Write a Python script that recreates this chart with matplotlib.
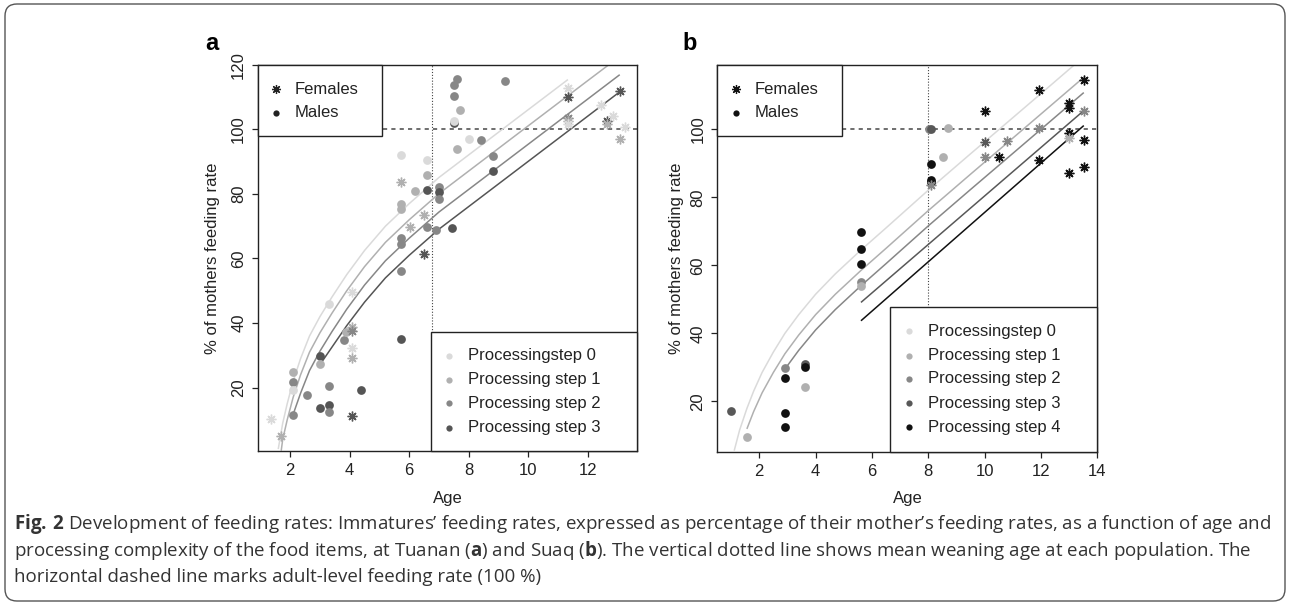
"""Fig. 2: tasa de alimentación de inmaduros (% de la madre) vs edad, Tuanan (a) y Suaq (b)."""
import matplotlib
matplotlib.use('Agg')
import matplotlib.pyplot as plt
from matplotlib.patches import Rectangle, FancyBboxPatch
from matplotlib.transforms import IdentityTransform

plt.rcParams['font.family'] = ['Liberation Sans', 'DejaVu Sans']
plt.rcParams['mathtext.fontset'] = 'custom'
plt.rcParams['mathtext.rm'] = 'Open Sans'
plt.rcParams['mathtext.bf'] = 'Open Sans:bold'

# ---------------- Tuanan (a) ----------------
a_fem_x = [1.36, 1.69, 4.08, 4.08, 4.08, 4.08, 4.08, 4.08, 6.02, 6.49, 6.49, 5.71,
           11.33, 11.33, 11.33, 11.33, 11.33, 12.45, 12.64, 12.64, 12.84, 13.07, 13.24, 13.07]
a_fem_y = [10.3, 4.9, 49.7, 38.8, 37.6, 32.2, 29.2, 11.2, 69.9, 73.4, 61.3, 83.8,
           112.8, 110.0, 103.5, 102.5, 101.5, 107.6, 102.7, 101.5, 104.2, 111.8, 100.6, 97.0]
a_fem_step = [0, 1, 0, 1, 2, 0, 1, 3, 1, 1, 3, 1,
              0, 3, 2, 1, 0, 0, 3, 1, 0, 3, 0, 1]

a_male_x = [2.08, 2.08, 2.08, 2.08, 2.58, 2.99, 2.99, 2.99, 3.29, 3.29, 3.29, 3.29,
            3.8, 3.89, 4.38, 5.71, 5.71, 5.71, 5.71, 5.71, 5.71, 5.71, 6.2, 6.61,
            6.61, 6.61, 6.61, 6.91, 7.01, 7.01, 7.01, 7.42, 7.5, 7.5, 7.62, 7.7,
            7.5, 7.5, 7.62, 8.02, 8.41, 8.82, 8.82, 9.22]
a_male_y = [24.8, 21.9, 19.2, 11.6, 17.6, 29.8, 27.4, 13.8, 45.8, 20.6, 14.7, 12.5,
            34.7, 37.2, 19.2, 35.0, 91.9, 77.0, 75.2, 66.2, 64.6, 56.1, 81.0, 90.4,
            85.7, 81.3, 69.8, 68.7, 82.1, 80.5, 78.4, 69.3, 113.6, 110.2, 115.7, 106.1,
            101.9, 102.5, 94.0, 97.0, 96.8, 91.6, 87.0, 115.1]
a_male_step = [1, 2, 0, 2, 2, 3, 1, 3, 0, 2, 3, 2,
               2, 1, 3, 3, 0, 1, 1, 2, 2, 2, 1, 0,
               1, 3, 2, 2, 2, 3, 2, 3, 2, 2, 2, 1,
               3, 0, 1, 0, 2, 2, 3, 2]

# curvas del modelo
a_c0_x = [1.60, 1.75, 1.9, 2.1, 2.35, 2.65, 3.0, 3.4, 3.9, 4.5, 5.2, 6.0, 7.0, 8.0, 9.0, 10.0, 11.33]
a_c0_y = [1, 9, 15, 22, 29, 36, 42, 48, 55, 62.5, 70, 77, 85.1, 92.1, 99.1, 106.1, 115.4]
a_c1_x = [1.70, 1.75, 1.9, 2.1, 2.35, 2.65, 3.0, 3.4, 3.9, 4.5, 5.2, 6.0, 7.0, 8.0, 9.0, 10.0, 11.0, 12.0, 12.82]
a_c1_y = [0.5, 4, 10, 17, 24, 31, 37, 43, 50, 57.5, 65, 72, 80.1, 87.1, 94.1, 101.1, 108.1, 115.1, 120.8]
a_c2_x = [2.08, 2.35, 2.65, 3.0, 3.4, 3.9, 4.5, 5.2, 6.0, 7.0, 8.0, 9.0, 10.0, 11.0, 12.0, 13.07]
a_c2_y = [11.2, 18.3, 25.3, 31.3, 37.3, 44.3, 51.8, 59.3, 66.3, 74.4, 81.4, 88.4, 95.4, 102.4, 109.4, 116.9]
a_c3_x = [2.99, 3.4, 3.9, 4.5, 5.2, 6.0, 7.0, 8.0, 9.0, 10.0, 11.0, 12.0, 13.07]
a_c3_y = [27, 32.5, 39.2, 46.5, 54, 61, 69.1, 76.1, 83.1, 90.1, 97.1, 104.1, 111.6]
a_weaning = 6.78

# ---------------- Suaq (b) ----------------
b_fem_x = [8.11, 10.0, 10.0, 10.0, 10.5, 10.78, 11.92, 11.92, 11.92, 13.0, 13.0, 13.0,
           13.0, 13.0, 13.52, 13.52, 13.52, 13.52]
b_fem_y = [83.7, 105.3, 96.3, 91.8, 91.8, 96.7, 111.6, 100.3, 90.9, 107.6, 106.3, 98.8,
           97.4, 87.1, 114.5, 105.5, 96.9, 89.0]
b_fem_step = [2, 4, 3, 2, 4, 2, 4, 2, 4, 4, 4, 4,
              1, 4, 4, 2, 4, 4]

b_male_x = [1.0, 1.56, 2.91, 2.91, 2.91, 2.91, 3.61, 3.61, 3.61, 5.61, 5.61, 5.61,
            5.61, 5.61, 8.01, 8.1, 8.70, 8.51, 8.11, 8.11, 8.11]
b_male_y = [17.2, 9.4, 29.7, 26.8, 16.5, 12.6, 31.0, 30.0, 24.1, 69.7, 64.8, 60.4,
            55.0, 54.0, 100.1, 100.1, 100.3, 91.8, 89.8, 85.1, 84.6]
b_male_step = [3, 1, 2, 4, 4, 4, 3, 4, 1, 4, 4, 4,
               2, 1, 2, 3, 1, 1, 4, 4, 4]

b_c0_x = [1.11, 1.3, 1.56, 1.8, 2.1, 2.5, 2.91, 3.4, 4.0, 4.7, 5.61, 6.5, 8.0, 9.5, 10.9, 12.0, 13.22]
b_c0_y = [5.5, 11.5, 17.9, 23, 28.5, 34.5, 40, 45.5, 51.5, 57.5, 64.5, 71, 82.1, 92.8, 102.7, 110.5, 119.2]
b_c1_x = [1.56, 1.8, 2.1, 2.5, 2.91, 3.4, 4.0, 4.7, 5.61, 6.5, 8.0, 9.5, 10.9, 12.0, 13.52]
b_c1_y = [11.9, 17, 22.5, 28.5, 34, 39.5, 45.5, 51.5, 58.5, 65, 76.1, 86.8, 96.7, 104.5, 115.3]
b_c2_x = [2.91, 3.4, 4.0, 4.7, 5.61, 6.5, 8.0, 9.5, 10.9, 12.0, 13.52]
b_c2_y = [29.5, 35, 41, 47, 54, 60.5, 71.6, 82.3, 92.2, 100, 110.8]
b_c3_x = [5.61, 13.52]
b_c3_y = [49.1, 105.5]
b_c4_x = [5.61, 13.52]
b_c4_y = [43.7, 101.1]
b_weaning = 8.0

a_labels = ['Processingstep 0', 'Processing step 1', 'Processing step 2', 'Processing step 3']
b_labels = a_labels + ['Processing step 4']
a_cols = ['#dadada', '#b0b0b0', '#878787', '#555555']
b_cols = ['#dadada', '#b0b0b0', '#878787', '#585858', '#111111']

AST = (8, 2, 0)   # asterisco tipo pch=8


def leyenda(ax, x0, x1, y0, y1, mk_x, tx_x, rows, labels, markers, colors, ms):
    ax.add_patch(Rectangle((x0, y0), x1 - x0, y1 - y0, transform=ax.transAxes,
                           facecolor='white', edgecolor='#222222', lw=1.0, zorder=5, clip_on=False))
    for r, lab, m, c in zip(rows, labels, markers, colors):
        if m == AST:
            ax.plot([mk_x], [r], marker=m, ms=ms + 2, mew=0.9, color=c, ls='none',
                    transform=ax.transAxes, zorder=6, clip_on=False)
        else:
            ax.plot([mk_x], [r], marker=m, ms=ms, mew=0, color=c, ls='none',
                    transform=ax.transAxes, zorder=6, clip_on=False)
        ax.text(tx_x, r, lab, transform=ax.transAxes, va='center', ha='left',
                fontsize=12, color='#222222', zorder=6)


def panel(ax, curves, cols, fx, fy, fs, mx, my, ms, wean, xlim, ylim, xticks, yticks):
    for (cx, cy), c in zip(curves, cols):
        ax.plot(cx, cy, '-', color=c, lw=1.1, zorder=2, solid_capstyle='butt')
    ax.axvline(wean, color='#444444', lw=0.8, ls=(0, (1, 1.6)), zorder=1)
    ax.axhline(100, color='#555555', lw=1.2, ls=(0, (2.5, 2.5)), zorder=1)
    for x, y, s in zip(mx, my, ms):
        ax.plot(x, y, 'o', ms=6.3, mew=0, color=cols[s], zorder=3)
    for x, y, s in zip(fx, fy, fs):
        ax.plot(x, y, marker=AST, ms=7, mew=1.0, color=cols[s], ls='none', zorder=4)
    ax.set_xlim(*xlim)
    ax.set_ylim(*ylim)
    ax.set_xticks(xticks)
    ax.set_yticks(yticks)
    ax.tick_params(direction='out', length=4.5, width=0.9, labelsize=12, pad=4,
                   colors='#222222')
    for lab in ax.get_yticklabels():
        lab.set_rotation(90)
        lab.set_va('center')
    for sp in ax.spines.values():
        sp.set_linewidth(1.0)
        sp.set_color('#222222')


fig = plt.figure(figsize=(12.9, 6.05), dpi=100)
W, H = 1290, 605
axa = fig.add_axes([258 / W, (H - 451) / H, 379 / W, 386.3 / H])
axb = fig.add_axes([717.3 / W, (H - 451.7) / H, 380 / W, 387 / H])

panel(axa, [(a_c0_x, a_c0_y), (a_c1_x, a_c1_y), (a_c2_x, a_c2_y), (a_c3_x, a_c3_y)], a_cols,
      a_fem_x, a_fem_y, a_fem_step, a_male_x, a_male_y, a_male_step, a_weaning,
      (0.92, 13.65), (0.4, 120), [2, 4, 6, 8, 10, 12], [20, 40, 60, 80, 100, 120])
panel(axb, [(b_c0_x, b_c0_y), (b_c1_x, b_c1_y), (b_c2_x, b_c2_y), (b_c3_x, b_c3_y), (b_c4_x, b_c4_y)],
      b_cols, b_fem_x, b_fem_y, b_fem_step, b_male_x, b_male_y, b_male_step, b_weaning,
      (0.51, 14.0), (5.2, 119), [2, 4, 6, 8, 10, 12, 14], [20, 40, 60, 80, 100])

# leyendas sexo
leyenda(axa, 0, 0.326, 0.8155, 1.0, 0.0475, 0.0958, [0.937, 0.876], ['Females', 'Males'],
        [AST, 'o'], ['#222222', '#222222'], 4.5)
leyenda(axb, 0, 0.327, 0.816, 1.0, 0.049, 0.097, [0.937, 0.876], ['Females', 'Males'],
        [AST, 'o'], ['#111111', '#111111'], 4.5)
# leyendas de paso de procesamiento
leyenda(axa, 0.4557, 1.0, 0.0, 0.307, 0.505, 0.553, [0.246, 0.184, 0.123, 0.060], a_labels,
        ['o'] * 4, a_cols, 4.5)
leyenda(axb, 0.455, 1.0, 0.0, 0.373, 0.504, 0.554, [0.311, 0.248, 0.188, 0.125, 0.063], b_labels,
        ['o'] * 5, b_cols, 4.5)

# textos de ejes
for xc, yc in [(213, 258), (676, 258)]:
    fig.text(xc / W, 1 - yc / H, '% of mothers feeding rate', rotation=90, ha='center', va='center',
             fontsize=12, color='#222222')
for xc in (448, 908):
    fig.text(xc / W, 1 - 498 / H, 'Age', ha='center', va='center', fontsize=12, color='#222222')
fig.text(212 / W, 1 - 44 / H, 'a', ha='center', va='center', fontsize=17, fontweight='bold')
fig.text(690 / W, 1 - 44 / H, 'b', ha='center', va='center', fontsize=17, fontweight='bold')

# pie de figura
cap = [r'$\bf{Fig.\,2}$ Development of feeding rates: Immatures’ feeding rates, expressed as percentage of their mother’s feeding rates, as a function of age and',
       r'processing complexity of the food items, at Tuanan ($\bf{a}$) and Suaq ($\bf{b}$). The vertical dotted line shows mean weaning age at each population. The',
       'horizontal dashed line marks adult-level feeding rate (100 %)']
for i, line in enumerate(cap):
    fig.text(14 / W, 1 - (524 + 26.5 * i) / H, line, ha='left', va='center', fontsize=13.5,
             family='Open Sans', color='#333333')

fig.patches.append(FancyBboxPatch((5, 4), 1280, 597, boxstyle='round,pad=0,rounding_size=12',
                                  transform=IdentityTransform(), facecolor='none',
                                  edgecolor='#555555', lw=1.0, figure=fig))

fig.savefig('out.png', dpi=100)
